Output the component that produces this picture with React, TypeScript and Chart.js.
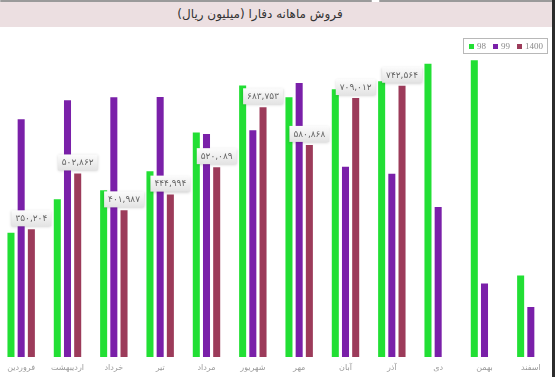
import React, { useEffect, useRef } from "react";
import { Chart, registerables } from "chart.js";

Chart.register(...registerables);

const TITLE = "فروش ماهانه دفارا (میلیون ریال)";
const months = [
  "فروردین",
  "اردیبهشت",
  "خرداد",
  "تیر",
  "مرداد",
  "شهریور",
  "مهر",
  "آبان",
  "آذر",
  "دی",
  "بهمن",
  "اسفند",
];
const seriesNames = ["98", "99", "1400"];
const sales98 = [341000, 432000, 457000, 509000, 615000, 743000, 711000, 733000, 755000, 803000, 812000, 224000];
const sales99 = [651000, 703000, 711000, 712000, 611000, 621000, 750000, 521000, 502000, 411000, 202000, 138000];
const sales1400 = [350204, 502862, 401987, 444994, 520089, 683753, 580868, 709012, 742564, null, null, null];
const colors = ["#22df34", "#7a20a9", "#9c3b5a"];
const Y_MAX = 813000;

const faDigits = "۰۱۲۳۴۵۶۷۸۹";
function toFa(n: number): string {
  return n
    .toString()
    .replace(/\B(?=(\d{3})+(?!\d))/g, ",")
    .replace(/\d/g, (d) => faDigits[+d]);
}

// custom boxed legend drawn at the top-right
const boxedLegend = {
  id: "boxedLegend",
  afterDraw(chart: any) {
    const ctx = chart.ctx;
    const ds = chart.data.datasets;
    ctx.save();
    ctx.font = "9px 'Liberation Serif', serif";
    const widths = ds.map((d: any) => ctx.measureText(d.label).width);
    let total = 0;
    widths.forEach((w: number, i: number) => {
      total += 5 + 3 + w + (i < widths.length - 1 ? 7 : 0);
    });
    const boxRight = chart.width - 7;
    const boxW = total + 10;
    const boxLeft = boxRight - boxW;
    const boxTop = 11;
    const boxH = 15;
    ctx.strokeStyle = "#b8b8b8";
    ctx.lineWidth = 1;
    ctx.strokeRect(Math.round(boxLeft) + 0.5, boxTop + 0.5, Math.round(boxW), boxH);
    const cy = boxTop + boxH / 2 + 1;
    let x = boxLeft + 6;
    ds.forEach((d: any, i: number) => {
      ctx.fillStyle = d.backgroundColor;
      ctx.fillRect(Math.round(x), Math.round(cy - 2.5), 5, 5);
      ctx.fillStyle = "#8a8a8a";
      ctx.textAlign = "left";
      ctx.textBaseline = "middle";
      ctx.fillText(d.label, x + 8, cy + 0.5);
      x += 8 + widths[i] + 7;
    });
    ctx.restore();
  },
};

const valueLabels = {
  id: "valueLabels",
  afterDatasetsDraw(chart: any) {
    const ctx = chart.ctx;
    const meta = chart.getDatasetMeta(2);
    const data = chart.data.datasets[2].data;
    ctx.save();
    ctx.font = "9px 'DejaVu Sans', sans-serif";
    meta.data.forEach((bar: any, i: number) => {
      const v = data[i];
      if (v == null) return;
      const text = toFa(v);
      const tw = ctx.measureText(text).width;
      const w = tw + 8;
      const h = 16;
      const x = bar.x - w / 2;
      const y = bar.y - 3 - h;
      const g = ctx.createLinearGradient(0, y, 0, y + h);
      g.addColorStop(0, "#fcfcfc");
      g.addColorStop(1, "#e3e3e3");
      ctx.shadowColor = "rgba(0,0,0,0.22)";
      ctx.shadowBlur = 3;
      ctx.shadowOffsetY = 1;
      ctx.fillStyle = g;
      ctx.fillRect(x, y, w, h);
      ctx.shadowColor = "transparent";
      ctx.shadowBlur = 0;
      ctx.shadowOffsetY = 0;
      ctx.fillStyle = "#666";
      ctx.textAlign = "center";
      ctx.textBaseline = "middle";
      ctx.fillText(text, bar.x, y + h / 2 + 0.5);
    });
    ctx.restore();
  },
};

export default function App() {
  const ref = useRef<HTMLCanvasElement>(null);
  useEffect(() => {
    document.body.style.margin = "0";
    const all = [sales98, sales99, sales1400];
    const chart = new Chart(ref.current as HTMLCanvasElement, {
      type: "bar",
      data: {
        labels: months,
        datasets: all.map((d, i) => ({
          label: seriesNames[i],
          data: d,
          backgroundColor: colors[i],
          borderWidth: 0,
          categoryPercentage: 0.66,
          barPercentage: 0.69,
        })),
      },
      options: {
        responsive: false,
        animation: false,
        layout: { padding: { top: 33, bottom: 4, left: 0, right: 0 } },
        plugins: {
          title: { display: false },
          tooltip: { enabled: false },
          legend: { display: false },
        },
        scales: {
          x: {
            grid: { display: false, drawTicks: false },
            border: { display: false },
            ticks: {
              color: "#9a9a9a",
              padding: 6,
              font: { size: 8, family: "'DejaVu Sans', sans-serif" },
              maxRotation: 0,
              autoSkip: false,
            },
          },
          y: {
            display: true,
            min: 0,
            max: Y_MAX,
            ticks: { display: false, stepSize: 100000 },
            grid: {
              color: (c: any) =>
                c.tick && c.tick.value % 100000 === 0 && c.tick.value > 0 ? "rgba(225,205,210,0.22)" : "rgba(0,0,0,0)",
              drawTicks: false,
            },
            border: { display: false },
          },
        },
      },
      plugins: [boxedLegend, valueLabels],
    } as any);
    return () => chart.destroy();
  }, []);

  return (
    <div style={{ position: "relative", width: 555, height: 377, overflow: "hidden", background: "#fff" }}>
      <div style={{ position: "absolute", left: 0, top: 0, width: 372, height: 2, background: "#9a9a9a", borderRadius: 1 }} />
      <div style={{ position: "absolute", left: 379, top: 0, width: 176, height: 2, background: "#9a9a9a", borderRadius: 1 }} />
      <div
        style={{
          position: "absolute",
          left: 0,
          top: 2,
          width: 555,
          height: 25,
          background: "#ecdfe1",
        }}
      />
      <div
        dir="rtl"
        style={{
          position: "absolute",
          left: 160,
          width: 200,
          top: 6,
          textAlign: "center",
          fontFamily: "'DejaVu Sans', sans-serif",
          fontSize: 12,
          lineHeight: "16px",
          color: "#333",
        }}
      >
        {TITLE}
      </div>
      <canvas
        ref={ref}
        width={556}
        height={356}
        style={{ position: "absolute", left: -2, top: 27, width: 556, height: 356 }}
      />
      <div style={{ position: "absolute", left: 552, top: 0, width: 3, height: 377, background: "#2b2b2b" }} />
    </div>
  );
}
